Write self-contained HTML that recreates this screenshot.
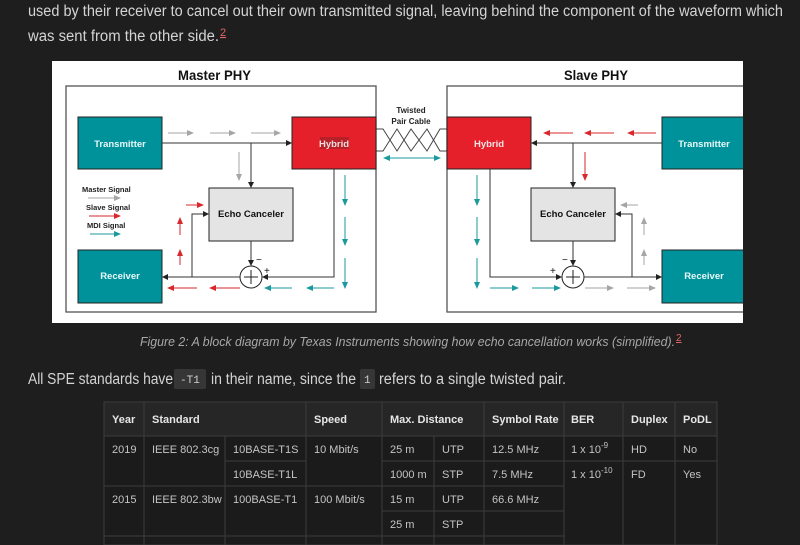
<!DOCTYPE html>
<html><head><meta charset="utf-8"><style>
html,body{margin:0;padding:0;background:#1e1e1e;width:800px;height:545px;overflow:hidden}
svg{display:block}
</style></head><body>
<svg width="800" height="545" viewBox="0 0 800 545" xmlns="http://www.w3.org/2000/svg" font-family="Liberation Sans, sans-serif">
<defs>
<marker id="ab" markerWidth="6" markerHeight="6" refX="5" refY="3" orient="auto" markerUnits="userSpaceOnUse"><path d="M0,0L6,3L0,6z" fill="#222"/></marker>
<marker id="ag" markerWidth="7" markerHeight="6" refX="6" refY="3" orient="auto" markerUnits="userSpaceOnUse"><path d="M0,0L7,3L0,6z" fill="#a6a6a6"/></marker>
<marker id="ar" markerWidth="7" markerHeight="6" refX="6" refY="3" orient="auto" markerUnits="userSpaceOnUse"><path d="M0,0L7,3L0,6z" fill="#d9272e"/></marker>
<marker id="at" markerWidth="7" markerHeight="6" refX="6" refY="3" orient="auto" markerUnits="userSpaceOnUse"><path d="M0,0L7,3L0,6z" fill="#1a9a9e"/></marker>
<marker id="ats" markerWidth="7" markerHeight="6" refX="1" refY="3" orient="auto" markerUnits="userSpaceOnUse"><path d="M7,0L0,3L7,6z" fill="#1a9a9e"/></marker>
<clipPath id="fig"><rect x="52" y="61" width="691" height="262"/></clipPath>
</defs>
<g fill="#d4d4d4" font-size="15.5">
<text x="28" y="16" textLength="755" lengthAdjust="spacingAndGlyphs">used by their receiver to cancel out their own transmitted signal, leaving behind the component of the waveform which</text>
<text x="28" y="41" textLength="191" lengthAdjust="spacingAndGlyphs">was sent from the other side.</text>
<text x="28" y="384" textLength="145" lengthAdjust="spacingAndGlyphs">All SPE standards have</text>
<text x="211" y="384" textLength="145" lengthAdjust="spacingAndGlyphs">in their name, since the</text>
<text x="379" y="384" textLength="187" lengthAdjust="spacingAndGlyphs">refers to a single twisted pair.</text>
</g>
<text x="220" y="36" fill="#e06666" font-size="11" text-decoration="underline">2</text>
<rect x="174" y="369" width="32" height="20" rx="2" fill="#363636"/>
<text x="180" y="383" fill="#cfcfcf" font-family="Liberation Mono, monospace" font-size="11">-T1</text>
<rect x="360" y="369" width="15" height="20" rx="2" fill="#363636"/>
<text x="364" y="383" fill="#cfcfcf" font-family="Liberation Mono, monospace" font-size="11">1</text>
<text x="140" y="346" fill="#a8a8a8" font-size="12.5" font-style="italic" textLength="535" lengthAdjust="spacingAndGlyphs">Figure 2: A block diagram by Texas Instruments showing how echo cancellation works (simplified).</text>
<text x="676" y="341" fill="#e06666" font-size="10" text-decoration="underline">2</text>

<rect x="52" y="61" width="691" height="262" fill="#fff"/>
<g clip-path="url(#fig)">
<text x="178" y="80" font-size="14" font-weight="bold" fill="#111" textLength="73" lengthAdjust="spacingAndGlyphs">Master PHY</text>
<text x="564" y="80" font-size="14" font-weight="bold" fill="#111" textLength="64" lengthAdjust="spacingAndGlyphs">Slave PHY</text>
<rect x="66" y="86" width="310" height="226" fill="none" stroke="#555" stroke-width="1.3"/>
<rect x="447" y="86" width="310" height="226" fill="none" stroke="#555" stroke-width="1.3"/>
<text x="411" y="113" font-size="8" font-weight="bold" text-anchor="middle" fill="#222">Twisted</text>
<text x="411" y="124" font-size="8" font-weight="bold" text-anchor="middle" fill="#222">Pair Cable</text>
<path d="M376,129H383L397,151L411,129L427,151L440,129H448M376,151H383L397,129L411,151L427,129L440,151H448" fill="none" stroke="#444" stroke-width="1"/>
<line x1="384" y1="158" x2="440" y2="158" stroke="#1a9a9e" stroke-width="1" marker-end="url(#at)" marker-start="url(#ats)"/>

<rect x="78" y="117" width="84" height="52" fill="#00929b" stroke="#222"/>
<text x="120" y="147" font-size="9.5" font-weight="bold" text-anchor="middle" fill="#e8f8f8">Transmitter</text>
<rect x="292" y="117" width="84" height="52" fill="#e5202a" stroke="#222"/>
<rect x="320" y="137" width="29" height="12" fill="#b82028"/>
<text x="334" y="147" font-size="9.5" font-weight="bold" text-anchor="middle" fill="#f0e0e0">Hybrid</text>
<rect x="78" y="250" width="84" height="53" fill="#00929b" stroke="#222"/>
<text x="120" y="279" font-size="9.5" font-weight="bold" text-anchor="middle" fill="#e8f8f8">Receiver</text>
<rect x="209" y="188" width="84" height="53" fill="#e4e4e4" stroke="#222"/>
<text x="251" y="217" font-size="9.5" font-weight="bold" text-anchor="middle" fill="#111">Echo Canceler</text>
<circle cx="251" cy="277" r="11" fill="#fff" stroke="#222"/>
<path d="M251,270V284M244,277H258" stroke="#222"/>
<g stroke="#333" fill="none" stroke-width="1">
<line x1="162" y1="143" x2="291" y2="143" marker-end="url(#ab)"/>
<line x1="251" y1="143" x2="251" y2="187" marker-end="url(#ab)"/>
<line x1="251" y1="241" x2="251" y2="265" marker-end="url(#ab)"/>
<polyline points="334,169 334,277 263,277" marker-end="url(#ab)"/>
<line x1="240" y1="277" x2="163" y2="277" marker-end="url(#ab)"/>
<polyline points="192,277 192,214 208,214" marker-end="url(#ab)"/>
</g>
<text x="256" y="263" font-size="10" fill="#111">−</text>
<text x="264" y="274" font-size="10" fill="#111">+</text>
<g stroke-width="1">
<line x1="168" y1="133" x2="193" y2="133" stroke="#a6a6a6" marker-end="url(#ag)"/>
<line x1="210" y1="133" x2="235" y2="133" stroke="#a6a6a6" marker-end="url(#ag)"/>
<line x1="251" y1="133" x2="280" y2="133" stroke="#a6a6a6" marker-end="url(#ag)"/>
<line x1="239" y1="152" x2="239" y2="180" stroke="#a6a6a6" marker-end="url(#ag)"/>
<line x1="345" y1="175" x2="345" y2="205" stroke="#1a9a9e" marker-end="url(#at)"/>
<line x1="345" y1="217" x2="345" y2="245" stroke="#1a9a9e" marker-end="url(#at)"/>
<line x1="345" y1="258" x2="345" y2="288" stroke="#1a9a9e" marker-end="url(#at)"/>
<line x1="292" y1="288" x2="265" y2="288" stroke="#1a9a9e" marker-end="url(#at)"/>
<line x1="334" y1="288" x2="307" y2="288" stroke="#1a9a9e" marker-end="url(#at)"/>
<line x1="197" y1="288" x2="168" y2="288" stroke="#d9272e" marker-end="url(#ar)"/>
<line x1="240" y1="288" x2="210" y2="288" stroke="#d9272e" marker-end="url(#ar)"/>
<line x1="180" y1="235" x2="180" y2="218" stroke="#d9272e" marker-end="url(#ar)"/>
<line x1="180" y1="265" x2="180" y2="250" stroke="#d9272e" marker-end="url(#ar)"/>
<line x1="186" y1="205" x2="203" y2="205" stroke="#d9272e" marker-end="url(#ar)"/>
<line x1="88" y1="198" x2="120" y2="198" stroke="#a6a6a6" marker-end="url(#ag)"/>
<line x1="89" y1="216" x2="120" y2="216" stroke="#d9272e" marker-end="url(#ar)"/>
<line x1="90" y1="234" x2="120" y2="234" stroke="#1a9a9e" marker-end="url(#at)"/>
</g>
<g font-size="7.5" font-weight="bold" fill="#222">
<text x="82" y="192">Master Signal</text>
<text x="86" y="210">Slave Signal</text>
<text x="87" y="228">MDI Signal</text>
</g>

<rect x="447" y="117" width="84" height="52" fill="#e5202a" stroke="#222"/>
<text x="489" y="147" font-size="9.5" font-weight="bold" text-anchor="middle" fill="#f6e6e6">Hybrid</text>
<rect x="662" y="117" width="84" height="52" fill="#00929b" stroke="#222"/>
<text x="704" y="147" font-size="9.5" font-weight="bold" text-anchor="middle" fill="#e8f8f8">Transmitter</text>
<rect x="662" y="250" width="84" height="53" fill="#00929b" stroke="#222"/>
<text x="704" y="279" font-size="9.5" font-weight="bold" text-anchor="middle" fill="#e8f8f8">Receiver</text>
<rect x="531" y="188" width="84" height="53" fill="#e4e4e4" stroke="#222"/>
<text x="573" y="217" font-size="9.5" font-weight="bold" text-anchor="middle" fill="#111">Echo Canceler</text>
<circle cx="573" cy="277" r="11" fill="#fff" stroke="#222"/>
<path d="M573,270V284M566,277H580" stroke="#222"/>
<g stroke="#333" fill="none" stroke-width="1">
<line x1="662" y1="143" x2="532" y2="143" marker-end="url(#ab)"/>
<line x1="573" y1="143" x2="573" y2="187" marker-end="url(#ab)"/>
<line x1="573" y1="241" x2="573" y2="265" marker-end="url(#ab)"/>
<polyline points="490,169 490,277 561,277" marker-end="url(#ab)"/>
<line x1="584" y1="277" x2="661" y2="277" marker-end="url(#ab)"/>
<polyline points="632,277 632,214 616,214" marker-end="url(#ab)"/>
</g>
<text x="562" y="263" font-size="10" fill="#111">−</text>
<text x="550" y="274" font-size="10" fill="#111">+</text>
<g stroke-width="1">
<line x1="656" y1="133" x2="628" y2="133" stroke="#d9272e" marker-end="url(#ar)"/>
<line x1="614" y1="133" x2="585" y2="133" stroke="#d9272e" marker-end="url(#ar)"/>
<line x1="573" y1="133" x2="544" y2="133" stroke="#d9272e" marker-end="url(#ar)"/>
<line x1="585" y1="152" x2="585" y2="180" stroke="#d9272e" marker-end="url(#ar)"/>
<line x1="477" y1="175" x2="477" y2="205" stroke="#1a9a9e" marker-end="url(#at)"/>
<line x1="477" y1="217" x2="477" y2="245" stroke="#1a9a9e" marker-end="url(#at)"/>
<line x1="477" y1="258" x2="477" y2="288" stroke="#1a9a9e" marker-end="url(#at)"/>
<line x1="490" y1="288" x2="518" y2="288" stroke="#1a9a9e" marker-end="url(#at)"/>
<line x1="532" y1="288" x2="560" y2="288" stroke="#1a9a9e" marker-end="url(#at)"/>
<line x1="585" y1="288" x2="613" y2="288" stroke="#a6a6a6" marker-end="url(#ag)"/>
<line x1="627" y1="288" x2="655" y2="288" stroke="#a6a6a6" marker-end="url(#ag)"/>
<line x1="644" y1="235" x2="644" y2="218" stroke="#a6a6a6" marker-end="url(#ag)"/>
<line x1="644" y1="265" x2="644" y2="250" stroke="#a6a6a6" marker-end="url(#ag)"/>
<line x1="638" y1="205" x2="621" y2="205" stroke="#a6a6a6" marker-end="url(#ag)"/>
</g>
</g>

<g stroke="#3c3c3c" stroke-width="1" fill="none">
<rect x="104" y="402" width="613" height="34" fill="#262626"/>
<rect x="104" y="436" width="613" height="109" fill="#1b1b1b"/>
<path d="M144,402V545M306,402V545M382,402V545M484,402V545M564,402V545M623,402V545M675,402V545"/>
<path d="M225,436V545M434,436V545"/>
<path d="M225,461H306M382,461H564M104,486H564M382,511H564M104,536H564M564,461H717"/>
</g>
<g fill="#e6e6e6" font-size="11" font-weight="bold">
<text x="112" y="423">Year</text><text x="152" y="423">Standard</text><text x="314" y="423">Speed</text>
<text x="390" y="423">Max. Distance</text><text x="492" y="423">Symbol Rate</text><text x="571" y="423">BER</text>
<text x="631" y="423">Duplex</text><text x="683" y="423">PoDL</text>
</g>
<g fill="#c4c4c4" font-size="11">
<text x="112" y="453">2019</text><text x="152" y="453">IEEE 802.3cg</text><text x="233" y="453">10BASE-T1S</text>
<text x="314" y="453">10 Mbit/s</text><text x="390" y="453">25 m</text><text x="442" y="453">UTP</text>
<text x="492" y="453">12.5 MHz</text><text x="571" y="453">1 x 10<tspan dy="-5" font-size="8">-9</tspan></text>
<text x="631" y="453">HD</text><text x="683" y="453">No</text>
<text x="233" y="478">10BASE-T1L</text><text x="390" y="478">1000 m</text><text x="442" y="478">STP</text>
<text x="492" y="478">7.5 MHz</text><text x="571" y="478">1 x 10<tspan dy="-5" font-size="8">-10</tspan></text>
<text x="631" y="478">FD</text><text x="683" y="478">Yes</text>
<text x="112" y="503">2015</text><text x="152" y="503">IEEE 802.3bw</text><text x="233" y="503">100BASE-T1</text>
<text x="314" y="503">100 Mbit/s</text><text x="390" y="503">15 m</text><text x="442" y="503">UTP</text>
<text x="492" y="503">66.6 MHz</text>
<text x="390" y="528">25 m</text><text x="442" y="528">STP</text>
</g>
</svg>
</body></html>
